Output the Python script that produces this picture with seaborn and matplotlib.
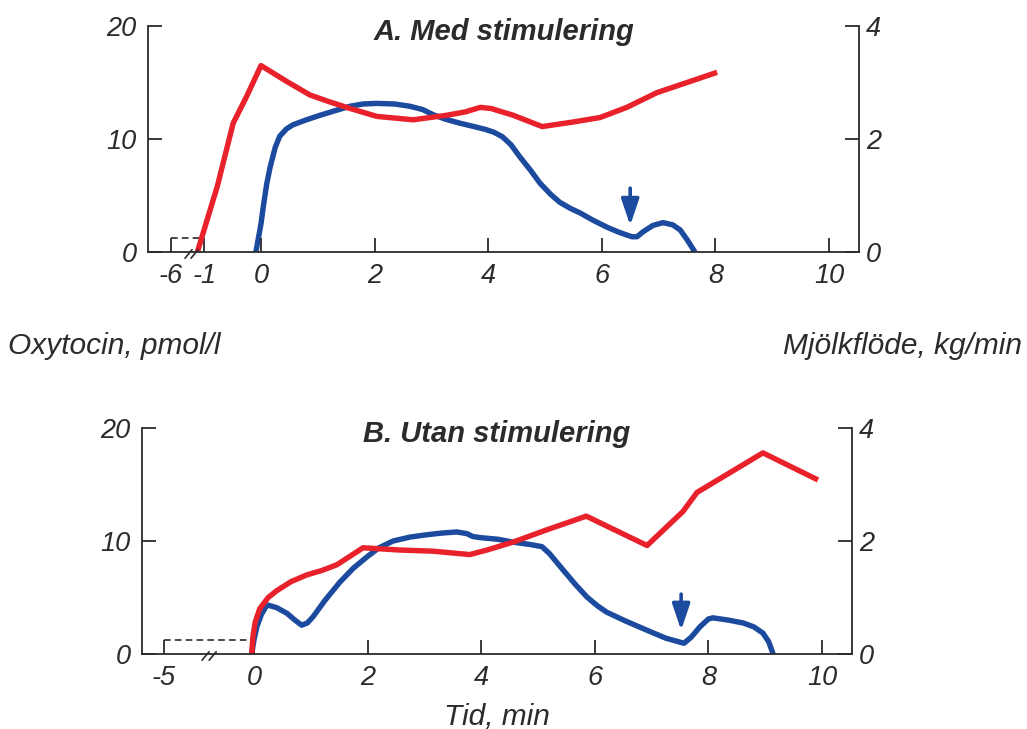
import matplotlib
matplotlib.use("Agg")
import matplotlib.pyplot as plt
import seaborn as sns
import numpy as np
import pandas as pd

# ---------------- data ----------------
# Panel A: Med stimulering
a_oxy_t = [-1.12, -0.77, -0.49, -0.25, 0.0, 0.45, 0.86, 1.2, 1.57, 2.04, 2.68, 3.27, 3.6, 3.86, 4.05,
           4.44, 4.95, 5.49, 5.97, 6.44, 6.97, 8.03]
a_oxy = [0, 5.8, 11.4, 13.8, 16.5, 15.1, 13.9, 13.3, 12.7, 12.0, 11.7, 12.1, 12.4, 12.8, 12.7,
         12.1, 11.1, 11.5, 11.9, 12.8, 14.1, 15.9]
a_flow_t = [-0.09, 0.0, 0.04, 0.1, 0.16, 0.25, 0.33, 0.45, 0.56, 0.8, 1.04, 1.3, 1.57, 1.8, 2.04, 2.35,
            2.62, 2.85, 3.03, 3.25, 3.5, 3.75, 3.95, 4.1, 4.25, 4.4, 4.56, 4.75, 4.91, 5.1, 5.26, 5.45,
            5.62, 5.85, 6.09, 6.3, 6.53, 6.62, 6.73, 6.9, 7.08, 7.25, 7.38, 7.5, 7.64]
a_flow = [0, 0.5, 0.8, 1.2, 1.5, 1.85, 2.05, 2.18, 2.25, 2.34, 2.42, 2.5, 2.58, 2.62, 2.63, 2.62,
          2.58, 2.52, 2.43, 2.35, 2.28, 2.22, 2.17, 2.12, 2.04, 1.9, 1.68, 1.44, 1.22, 1.02, 0.88, 0.77,
          0.69, 0.56, 0.44, 0.35, 0.27, 0.27, 0.36, 0.47, 0.52, 0.48, 0.39, 0.22, 0]
a_arrow_t, a_arrow_from, a_arrow_to = 6.5, 1.13, 0.47

# Panel B: Utan stimulering
b_oxy_t = [-0.04, -0.02, 0.02, 0.1, 0.25, 0.4, 0.65, 0.93, 1.2, 1.46, 1.92, 2.57, 3.15, 3.8, 4.1,
           4.56, 5.16, 5.85, 6.92, 7.55, 7.8, 8.96, 9.93]
b_oxy = [0, 1.5, 2.8, 4.0, 5.0, 5.6, 6.4, 7.0, 7.4, 7.9, 9.4, 9.2, 9.1, 8.8, 9.2,
         9.9, 11.0, 12.2, 9.6, 12.6, 14.3, 17.8, 15.4]
b_flow_t = [-0.04, 0.0, 0.05, 0.13, 0.23, 0.4, 0.58, 0.72, 0.84, 0.94, 1.04, 1.25, 1.51, 1.75, 1.99,
            2.2, 2.45, 2.75, 3.04, 3.3, 3.57, 3.75, 3.85, 3.98, 4.3, 4.56, 4.85, 5.07, 5.2, 5.44,
            5.65, 5.86, 6.05, 6.21, 6.55, 6.92, 7.25, 7.57, 7.7, 7.85, 8.0, 8.08, 8.35, 8.61, 8.8,
            8.96, 9.06, 9.14]
b_flow = [0, 0.25, 0.48, 0.7, 0.87, 0.82, 0.72, 0.6, 0.51, 0.55, 0.66, 0.95, 1.27, 1.52, 1.72,
          1.88, 2.0, 2.07, 2.11, 2.14, 2.16, 2.13, 2.08, 2.06, 2.03, 1.98, 1.94, 1.9, 1.78, 1.49,
          1.24, 1.01, 0.85, 0.74, 0.58, 0.42, 0.28, 0.19, 0.3, 0.48, 0.62, 0.64, 0.6, 0.55, 0.48,
          0.37, 0.22, 0]
b_arrow_t, b_arrow_from, b_arrow_to = 7.52, 1.06, 0.42

baseline_oxy = 1.25
xticks_main = [0, 2, 4, 6, 8, 10]
a_pre_ticks = [-6, -1]   # before the axis break
b_pre_ticks = [-5]
left_ticks = [0, 10, 20]
right_ticks = [0, 2, 4]

titles = ["A. Med stimulering", "B. Utan stimulering"]

# ---------------- style ----------------
sns.set_theme(style="white")
plt.rcParams['font.family'] = ['Liberation Sans', 'DejaVu Sans']

RED = "#E8212B"
BLUE = "#1B4A9E"
DARK = "#2b2b2b"
TICKFS = 19.5
LABFS = 21.5

fig = plt.figure(figsize=(10.27, 7.29), dpi=100)
W, H = 1027, 729


def make_axes(left, right, top, bottom):
    return fig.add_axes([left / W, 1 - bottom / H, (right - left) / W, (bottom - top) / H])


def break_pos_a(t):
    # compress the time before -1 min (axis break)
    return t if t >= -1 else -1 + (t + 1) * 0.117


def break_pos_b(t):
    return t if t >= 0 else t * 0.317


def setup(ax, ax2, xlim, pre_ticks, pre_map, title, breaks):
    ax.set_xlim(*xlim)
    ax.set_ylim(0, 20)
    ax2.set_ylim(0, 4)
    for a in (ax, ax2):
        for s in a.spines.values():
            s.set_visible(False)
    ax.spines['left'].set_visible(True)
    ax.spines['bottom'].set_visible(True)
    ax2.spines['right'].set_visible(True)
    for s in (ax.spines['left'], ax.spines['bottom'], ax2.spines['right']):
        s.set_color(DARK)
        s.set_linewidth(1.3)
    pos = [pre_map(t) for t in pre_ticks] + xticks_main
    labs = [str(t) for t in pre_ticks] + [str(t) for t in xticks_main]
    ax.set_xticks(pos)
    ax.set_xticklabels(labs)
    ax.set_yticks(left_ticks)
    ax.set_yticklabels([str(v) for v in left_ticks])
    ax2.set_yticks(right_ticks)
    ax2.set_yticklabels([str(v) for v in right_ticks])
    ax.tick_params(axis='x', direction='in', length=10, width=1.3, color=DARK, pad=8,
                   labelsize=TICKFS, labelcolor=DARK, bottom=True)
    ax.tick_params(axis='y', direction='in', length=10, width=1.3, color=DARK, pad=8,
                   labelsize=TICKFS, labelcolor=DARK, left=True)
    ax2.tick_params(axis='y', direction='in', length=10, width=1.3, color=DARK, pad=5,
                    labelsize=TICKFS, labelcolor=DARK, right=True)
    for lab in ax.get_xticklabels() + ax.get_yticklabels() + ax2.get_yticklabels():
        lab.set_fontstyle('italic')
    ax.set_xlabel("")
    ax.set_ylabel("")
    ax2.set_ylabel("")
    ax.grid(False)
    ax2.grid(False)
    ax.text(0.5, 0.972, title, transform=ax.transAxes, ha='center', va='center',
            fontsize=21, fontweight='bold', fontstyle='italic', color=DARK)
    # break marks
    for (x0, x1) in breaks:
        ax.plot([x0, x1], [-0.55, 0.2], color=DARK, lw=1.2, clip_on=False, zorder=5)


def draw_panel(ax, ax2, oxy_t, oxy, flow_t, flow, arrow):
    d1 = pd.DataFrame({'t': oxy_t, 'v': oxy})
    d2 = pd.DataFrame({'t': flow_t, 'v': flow})
    sns.lineplot(data=d2, x='t', y='v', ax=ax2, color=BLUE, linewidth=3.9, sort=False,
                 estimator=None, solid_capstyle='butt', solid_joinstyle='round')
    sns.lineplot(data=d1, x='t', y='v', ax=ax, color=RED, linewidth=3.9, sort=False,
                 estimator=None, solid_capstyle='butt', solid_joinstyle='round')
    at, a_from, a_to = arrow
    ax2.annotate("", xy=(at, a_to), xytext=(at, a_from),
                 arrowprops=dict(arrowstyle='-|>,head_length=0.8,head_width=0.27',
                                 lw=2.6, color=BLUE, shrinkA=0, shrinkB=0, mutation_scale=20))


# Panel A
axA = make_axes(148, 859, 26, 252)
axA2 = axA.twinx()
axA.set_zorder(2)
axA.patch.set_visible(False)
xlimA = ((148 - 261) / 56.8, (859 - 261) / 56.8)
draw_panel(axA, axA2, a_oxy_t, a_oxy, a_flow_t, a_flow, (a_arrow_t, a_arrow_from, a_arrow_to))
setup(axA, axA2, xlimA, a_pre_ticks, break_pos_a, titles[0],
      [(-1.338, -1.215), (-1.232, -1.109)])
axA2.set_xlim(*xlimA)
axA.plot([break_pos_a(-6), break_pos_a(-1)], [baseline_oxy, baseline_oxy], color=DARK,
         lw=1.2, ls=(0, (4, 2.5)), zorder=1)

# Panel B
axB = make_axes(142, 852, 428, 654)
axB2 = axB.twinx()
axB.set_zorder(2)
axB.patch.set_visible(False)
xlimB = ((142 - 254) / 56.8, (852 - 254) / 56.8)
draw_panel(axB, axB2, b_oxy_t, b_oxy, b_flow_t, b_flow, (b_arrow_t, b_arrow_from, b_arrow_to))
setup(axB, axB2, xlimB, b_pre_ticks, break_pos_b, titles[1],
      [(-0.915, -0.79), (-0.79, -0.665)])
axB2.set_xlim(*xlimB)
axB.plot([break_pos_b(-5), 0], [baseline_oxy, baseline_oxy], color=DARK,
         lw=1.2, ls=(0, (4, 2.5)), zorder=1)

# Axis labels
fig.text(8 / W, 1 - 346 / H, "Oxytocin, pmol/l", ha='left', va='center', fontsize=LABFS,
         fontstyle='italic', color=DARK)
fig.text(1022 / W, 1 - 346 / H, "Mjölkflöde, kg/min", ha='right', va='center', fontsize=LABFS,
         fontstyle='italic', color=DARK)
fig.text(497 / W, 1 - 717 / H, "Tid, min", ha='center', va='center', fontsize=LABFS,
         fontstyle='italic', color=DARK)

fig.savefig("out.png", dpi=100, facecolor='white')
